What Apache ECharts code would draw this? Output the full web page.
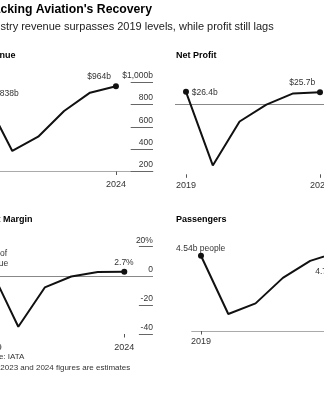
<!DOCTYPE html>
<html>
<head>
<meta charset="utf-8">
<script src="https://cdn.jsdelivr.net/npm/echarts@6/dist/echarts.min.js"></script>
<style>
  html, body { margin: 0; padding: 0; background: #fff; }
  #chart { width: 324px; height: 400px; }
</style>
</head>
<body>
<div id="chart"></div>
<script>
// Airline industry figures, 2019-2024 (2023 and 2024 are estimates)
const years = [2019, 2020, 2021, 2022, 2023, 2024];
const revenue = [838, 384, 512, 743, 907, 964];        // $ billions
const netProfit = [26.4, -131, -37, -1, 23, 25.7];      // $ billions
const profitMargin = [3.1, -35, -8, -0.5, 2.6, 2.7];    // % of revenue
const passengers = [4.54, 1.8, 2.3, 3.5, 4.3, 4.7];     // billions of people
const yearTicks = [2019, 2024];
const revenueTicks = [200, 400, 600, 800, 1000];
const marginTicks = [-40, -20, 0, 20];

// endpoint labels
const revenueLabels = ['$838b', '$964b'];
const profitLabels = ['$26.4b', '$25.7b'];
const marginLabels = ['3.1% of\nrevenue', '2.7%'];
const passengerLabels = ['4.54b people', '4.7b people'];

const FONT = 'Liberation Sans, Arial, Helvetica, sans-serif';
const INK = '#111';
const LABEL = '#333';

const chart = echarts.init(document.getElementById('chart'), null, { renderer: 'canvas' });

// label placement relative to each endpoint dot
const endLabelStyle = {};
endLabelStyle[revenueLabels[0]] = { position: [11.6, -4], align: 'left', verticalAlign: 'middle' };
endLabelStyle[revenueLabels[1]] = { position: [-2, -6.5], align: 'right', verticalAlign: 'middle' };
endLabelStyle[profitLabels[0]] = { position: [8.7, 3.6], align: 'left', verticalAlign: 'middle' };
endLabelStyle[profitLabels[1]] = { position: [-1.7, -6.6], align: 'right', verticalAlign: 'middle' };
endLabelStyle[marginLabels[0]] = { position: [4, -9.3], align: 'center', verticalAlign: 'middle', lineHeight: 10 };
endLabelStyle[marginLabels[1]] = { position: [2.7, -6.1], align: 'center', verticalAlign: 'middle' };
endLabelStyle[passengerLabels[0]] = { position: [2.7, -4.5], align: 'center', verticalAlign: 'middle' };
endLabelStyle[passengerLabels[1]] = { position: [3, 22], align: 'center', verticalAlign: 'middle' };

function points(values, endLabels) {
  const last = values.length - 1;
  return values.map((v, i) => {
    const item = { value: [years[i], v] };
    if (i === 0 || i === last) {
      const lab = endLabels[i === 0 ? 0 : 1];
      item.symbolSize = 6;
      item.label = Object.assign({ show: true, formatter: lab }, endLabelStyle[lab] || {});
    } else {
      item.symbolSize = 0;
    }
    return item;
  });
}

function xAxis(gridIndex, min, max, showLine, labelMargin) {
  return {
    type: 'value', gridIndex, min, max,
    axisLine: { show: showLine, onZero: false, lineStyle: { color: '#aaa', width: 1 } },
    axisTick: { show: true, customValues: yearTicks, length: 3.5, lineStyle: { color: '#555' } },
    axisLabel: { show: true, customValues: yearTicks, margin: labelMargin, fontSize: 9, fontFamily: FONT, color: LABEL,
                 formatter: v => String(v) },
    splitLine: { show: false }
  };
}

function lineSeries(xi, values, endLabels, zero) {
  const s = {
    type: 'line', xAxisIndex: xi, yAxisIndex: xi,
    data: points(values, endLabels),
    symbol: 'circle',
    itemStyle: { color: INK },
    lineStyle: { color: INK, width: 2 },
    label: { fontSize: 8.5, fontFamily: FONT, color: LABEL },
    silent: true, animation: false, z: 3
  };
  if (zero) {
    s.markLine = {
      silent: true, symbol: 'none', animation: false,
      label: { show: false },
      lineStyle: { color: '#888', width: 1, type: 'solid' },
      data: [{ yAxis: 0 }], z: 1
    };
  }
  return s;
}

function text(x, y, str, size, weight, color) {
  return {
    type: 'text', x, y,
    style: { text: str, font: `${weight} ${size}px ${FONT}`, fill: color,
             verticalAlign: 'middle', textVerticalAlign: 'middle' },
    silent: true
  };
}

const option = {
  backgroundColor: '#fff',
  animation: false,
  grid: [
    { left: -24, top: 82.3, width: 177, height: 89.2, outerBoundsMode: 'none', containLabel: false },     // revenue
    { left: 175, top: 80.8, width: 183.3, height: 93.5, outerBoundsMode: 'none', containLabel: false },   // net profit
    { left: -18.8, top: 246.7, width: 171.7, height: 87.3, outerBoundsMode: 'none', containLabel: false },// profit margin
    { left: 191.7, top: 246, width: 184.8, height: 85, outerBoundsMode: 'none', containLabel: false }     // passengers
  ],
  xAxis: [
    xAxis(0, 2018.6, 2025.43, true, 9),
    xAxis(1, 2018.59, 2025.43, false, 6.5),
    xAxis(2, 2018.6, 2025.08, false, 9),
    xAxis(3, 2018.66, 2025.43, true, 6.5)
  ],
  yAxis: [
    {
      type: 'value', gridIndex: 0, position: 'right', min: 200, max: 1000, interval: 200,
      axisLine: { show: false },
      axisTick: { show: true, inside: true, length: 22.3, customValues: revenueTicks, lineStyle: { color: '#666' } },
      axisLabel: { show: true, inside: true, margin: 0, customValues: revenueTicks, verticalAlign: 'bottom',
                   padding: [0, 0, 2, 0], fontSize: 8.5, fontFamily: FONT, color: LABEL,
                   formatter: v => v === 1000 ? '$1,000b' : String(v) },
      splitLine: { show: false }
    },
    { type: 'value', gridIndex: 1, min: -150, max: 50, show: false, splitLine: { show: false } },
    {
      type: 'value', gridIndex: 2, position: 'right', min: -40, max: 20, interval: 20,
      axisLine: { show: false },
      axisTick: { show: true, inside: true, length: 14, customValues: marginTicks, lineStyle: { color: '#666' } },
      axisLabel: { show: true, inside: true, margin: 0, customValues: marginTicks, verticalAlign: 'bottom',
                   padding: [0, 0, 2, 0], fontSize: 8.5, fontFamily: FONT, color: LABEL,
                   formatter: v => v === 20 ? '20%' : String(v) },
      splitLine: { show: false }
    },
    { type: 'value', gridIndex: 3, min: 1, max: 5, show: false, splitLine: { show: false } }
  ],
  series: [
    lineSeries(0, revenue, revenueLabels, false),
    lineSeries(1, netProfit, profitLabels, true),
    lineSeries(2, profitMargin, marginLabels, true),
    lineSeries(3, passengers, passengerLabels, false)
  ],
  graphic: [
    text(-18, 10, "Tracking Aviation's Recovery", 12.25, 'bold', '#000'),
    text(-21, 27, 'Industry revenue surpasses 2019 levels, while profit still lags', 11, 'normal', '#222'),
    text(-22, 56, 'Revenue', 9, 'bold', '#000'),
    text(176, 56, 'Net Profit', 9, 'bold', '#000'),
    text(-23, 220, 'Profit Margin', 9, 'bold', '#000'),
    text(176, 220, 'Passengers', 9, 'bold', '#000'),
    text(-22, 357, 'Source: IATA', 8, 'normal', '#333'),
    text(-21, 368, 'Note: 2023 and 2024 figures are estimates', 8, 'normal', '#333')
  ]
};

chart.setOption(option);
</script>
</body>
</html>
